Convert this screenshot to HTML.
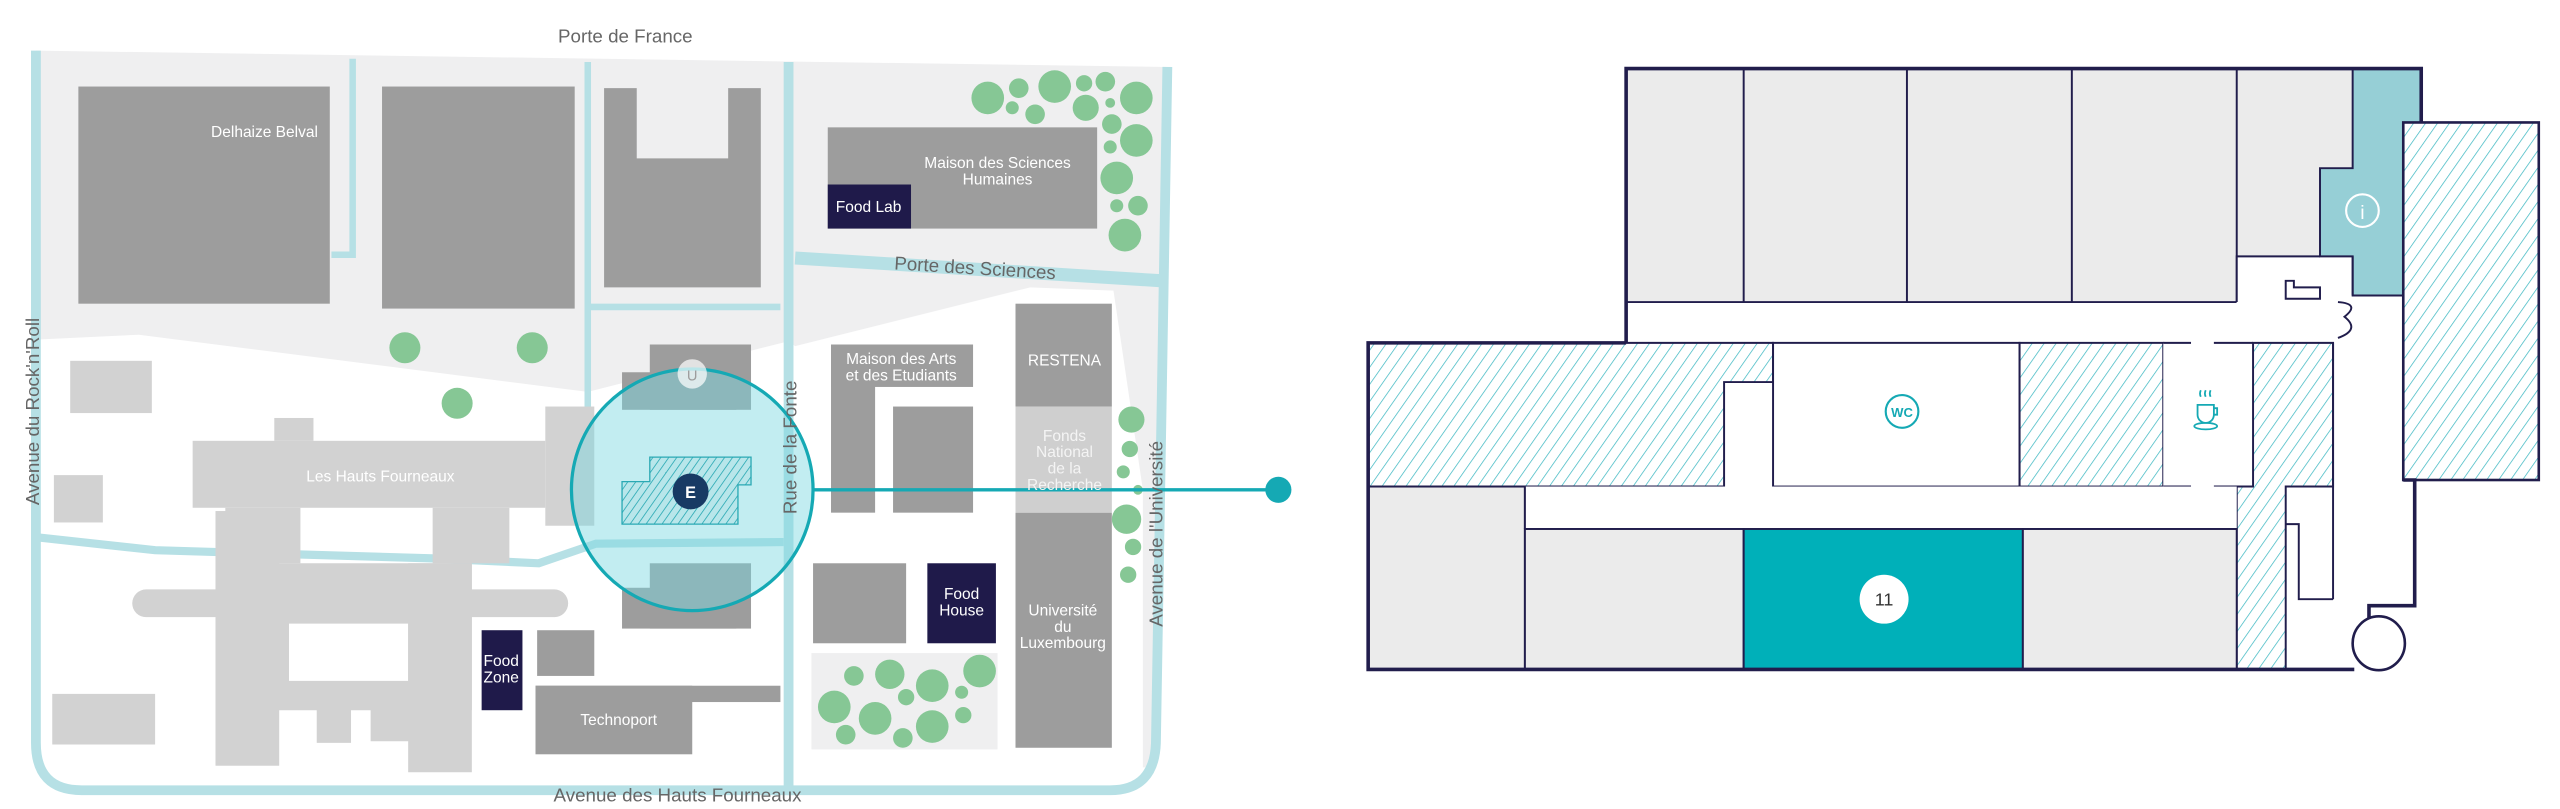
<!DOCTYPE html>
<html><head><meta charset="utf-8">
<style>
html,body{margin:0;padding:0;background:#fff;}
svg{display:block;}
text{font-family:"Liberation Sans Narrow","Liberation Sans",sans-serif;}
</style></head>
<body>
<svg width="2560" height="809" viewBox="0 0 1568 495.5" xmlns="http://www.w3.org/2000/svg">
<defs>
<pattern id="h" patternUnits="userSpaceOnUse" width="6" height="6" patternTransform="rotate(35)">
<rect width="6" height="6" fill="#fff"/>
<line x1="0" y1="0" x2="0" y2="6" stroke="#3db8c2" stroke-width="0.9"/>
</pattern>
<pattern id="h2" patternUnits="userSpaceOnUse" width="4" height="4" patternTransform="rotate(35)">
<rect width="4" height="4" fill="#b8e6ea"/>
<line x1="0" y1="0" x2="0" y2="4" stroke="#2aa9b4" stroke-width="1"/>
</pattern>
</defs>

<!-- ===== LEFT MAP ===== -->
<polygon points="22,31 715,41 708,470 700,470 700,300 682,178 631,176 487,212 483,209 360,240 85,205 22,208" fill="#efeff0"/>

<!-- roads -->
<g fill="none" stroke="#b6e0e5" stroke-linecap="butt">
<path d="M22,31 L22,455 Q22,484 50,484 L680,484 Q707,484 708,455 L715,41" stroke-width="6"/>
<line x1="483" y1="38" x2="483" y2="487" stroke-width="6"/>
<line x1="487" y1="158" x2="712" y2="172" stroke-width="8"/>
<path d="M216,36 L216,156 L203,156" stroke-width="4"/>
<path d="M360,38 L360,250" stroke-width="4"/>
<line x1="360" y1="188" x2="478" y2="188" stroke-width="4"/>
<path d="M22,329 L95,337 L265,342 L330,345 L365,333 L480,332" stroke-width="5"/>
</g>

<!-- light gray buildings -->
<g fill="#d2d2d2">
<rect x="43" y="221" width="50" height="32"/>
<rect x="33" y="291" width="30" height="29"/>
<rect x="32" y="425" width="63" height="31"/>
<rect x="118" y="270" width="216" height="41"/>
<rect x="168" y="256" width="24" height="14"/>
<rect x="334" y="249" width="30" height="73"/>
<rect x="138" y="311" width="46" height="34"/>
<rect x="132" y="313" width="39" height="156"/>
<rect x="265" y="311" width="47" height="34"/>
<rect x="250" y="345" width="39" height="128"/>
<rect x="81" y="361" width="267" height="17" rx="8.5"/>
<path d="M132,345 H289 V435 H132 Z M177,382 V417 H250 V382 Z" fill-rule="evenodd"/>
<rect x="194" y="430" width="21" height="25"/>
<rect x="227" y="430" width="32" height="24"/>
</g>

<!-- dark gray buildings -->
<g fill="#9d9d9d">
<rect x="48" y="53" width="154" height="133"/>
<rect x="234" y="53" width="118" height="136"/>
<path d="M370,54 H390 V97 H446 V54 H466 V176 H370 Z"/>
<rect x="507" y="78" width="165" height="62"/>
<rect x="509" y="211" width="87" height="26"/>
<rect x="509" y="211" width="27" height="103"/>
<rect x="547" y="249" width="49" height="65"/>
<rect x="622" y="186" width="59" height="63"/>
<rect x="622" y="314" width="59" height="144"/>
<rect x="498" y="345" width="57" height="49"/>
<rect x="328" y="420" width="150" height="10"/>
<rect x="328" y="420" width="96" height="42"/>
<rect x="329" y="386" width="35" height="28"/>
<rect x="398" y="211" width="62" height="40"/>
<rect x="381" y="228" width="70" height="23"/>
<rect x="398" y="345" width="62" height="40"/>
<rect x="381" y="360" width="70" height="25"/>
</g>
<rect x="622" y="249" width="59" height="65" fill="#cfcfcf"/>
<rect x="497" y="400" width="114" height="59" fill="#efeff0"/>

<g fill="#1f1a4a">
<rect x="507" y="113" width="51" height="27"/>
<rect x="568" y="345" width="42" height="49"/>
<rect x="295" y="386" width="25" height="49"/>
</g>

<!-- trees -->
<g fill="#86c795">
<circle cx="605" cy="60" r="10"/><circle cx="624" cy="54" r="6"/><circle cx="646" cy="53" r="10"/>
<circle cx="664" cy="51" r="5"/><circle cx="677" cy="50" r="6"/><circle cx="696" cy="60" r="10"/>
<circle cx="620" cy="66" r="4"/><circle cx="634" cy="70" r="6"/><circle cx="665" cy="66" r="8"/>
<circle cx="680" cy="63" r="3"/><circle cx="681" cy="76" r="6"/><circle cx="696" cy="86" r="10"/>
<circle cx="680" cy="90" r="4"/><circle cx="684" cy="109" r="10"/><circle cx="684" cy="126" r="4"/>
<circle cx="697" cy="126" r="6"/><circle cx="689" cy="144" r="10"/>
<circle cx="248" cy="213" r="9.5"/><circle cx="326" cy="213" r="9.5"/><circle cx="280" cy="247" r="9.5"/>
<circle cx="693" cy="257" r="8"/><circle cx="692" cy="275" r="5"/><circle cx="688" cy="289" r="4"/>
<circle cx="697" cy="300" r="3"/><circle cx="690" cy="318" r="9"/><circle cx="694" cy="335" r="5"/><circle cx="691" cy="352" r="5"/>
<circle cx="511" cy="433" r="10"/><circle cx="523" cy="414" r="6"/><circle cx="545" cy="413" r="9"/>
<circle cx="571" cy="420" r="10"/><circle cx="600" cy="411" r="10"/><circle cx="518" cy="450" r="6"/>
<circle cx="536" cy="440" r="10"/><circle cx="555" cy="427" r="5"/><circle cx="553" cy="452" r="6"/>
<circle cx="571" cy="445" r="10"/><circle cx="590" cy="438" r="5"/><circle cx="589" cy="424" r="4"/>
</g>

<!-- circle highlight -->
<circle cx="424" cy="300" r="74" fill="rgba(120,215,225,0.45)" stroke="#15a9b4" stroke-width="2"/>
<circle cx="424" cy="229" r="9" fill="#fff" fill-opacity="0.7"/>
<text x="424" y="233" font-size="9" fill="#9d9d9d" text-anchor="middle">U</text>
<polygon points="398,280 460,280 460,297 452,297 452,321 381,321 381,295 398,295" fill="url(#h2)" stroke="#2aa9b4" stroke-width="0.8"/>
<circle cx="423" cy="301" r="11" fill="#183a64"/>
<text x="423" y="305" font-size="10" fill="#fff" text-anchor="middle" font-weight="bold">E</text>
<line x1="498" y1="300" x2="783" y2="300" stroke="#15a9b4" stroke-width="2"/>
<circle cx="783" cy="300" r="8" fill="#15a9b4"/>

<!-- labels -->
<g font-size="9.5" fill="#fff" text-anchor="middle">
<text x="162" y="84">Delhaize Belval</text>
<text x="611" y="103">Maison des Sciences</text>
<text x="611" y="113">Humaines</text>
<text x="532" y="130">Food Lab</text>
<text x="552" y="223">Maison des Arts</text>
<text x="552" y="233">et des Etudiants</text>
<text x="652" y="224">RESTENA</text>
<g fill="#f4f4f4"><text x="652" y="270">Fonds</text><text x="652" y="280">National</text><text x="652" y="290">de la</text><text x="652" y="300">Recherche</text></g>
<text x="651" y="377">Université</text><text x="651" y="387">du</text><text x="651" y="397">Luxembourg</text>
<text x="589" y="367">Food</text><text x="589" y="377">House</text>
<text x="307" y="408">Food</text><text x="307" y="418">Zone</text>
<text x="379" y="444">Technoport</text>
<text x="233" y="295">Les Hauts Fourneaux</text>
</g>
<g font-size="11.5" fill="#666" text-anchor="middle">
<text x="383" y="26">Porte de France</text>
<text x="415" y="491">Avenue des Hauts Fourneaux</text>
<text transform="translate(597,168) rotate(3.5)">Porte des Sciences</text>
<text transform="translate(24,252) rotate(-90)">Avenue du Rock'n'Roll</text>
<text transform="translate(488,274) rotate(-90)">Rue de la Fonte</text>
<text transform="translate(712,327) rotate(-90)">Avenue de l'Université</text>
</g>

<!-- ===== FLOOR PLAN ===== -->
<g stroke="#211d4c" stroke-width="1.2">
<rect x="996" y="42" width="445" height="143" fill="#ebebeb" stroke="none"/>
<line x1="996" y1="185" x2="1370" y2="185"/>
<line x1="1068" y1="42" x2="1068" y2="185"/><line x1="1168" y1="42" x2="1168" y2="185"/>
<line x1="1269" y1="42" x2="1269" y2="185"/>
<line x1="1370" y1="42" x2="1370" y2="185"/>
<rect x="1370" y="157" width="71" height="29" fill="#fff" stroke="none"/>
<path d="M1370,185 V157 H1421" fill="none"/>
<path d="M1441,42 H1483 V181 H1441 V157 H1421 V103 H1441 Z" fill="#96cfd6"/>
<rect x="997" y="186" width="441" height="24" fill="#fff" stroke="none"/>
<rect x="1440" y="182" width="32" height="228" fill="#fff" stroke="none"/>
<rect x="1472" y="75" width="83" height="219" fill="url(#h)" stroke-width="1.6"/>
<path d="M838,210 H1086 V234 H1056 V298 H838 Z" fill="url(#h)"/>
<rect x="1086" y="210" width="151" height="88" fill="#fff"/>
<rect x="1237" y="210" width="88" height="88" fill="url(#h)"/>
<rect x="1325" y="210" width="55" height="88" fill="#fff" stroke="none"/>
<line x1="1325" y1="210" x2="1342" y2="210"/><line x1="1356" y1="210" x2="1380" y2="210"/>
<line x1="1325" y1="298" x2="1342" y2="298"/><line x1="1356" y1="298" x2="1380" y2="298"/>
<path d="M1380,210 H1429 V298 H1400 V410 H1370 V298 H1380 Z" fill="url(#h)"/>
<rect x="838" y="298" width="96" height="112" fill="#ebebeb"/>
<rect x="934" y="298" width="436" height="26" fill="#fff" stroke="none"/>
<rect x="934" y="324" width="134" height="86" fill="#ebebeb"/>
<rect x="1068" y="324" width="171" height="86" fill="#00b0b9"/>
<rect x="1239" y="324" width="131" height="86" fill="#ebebeb"/>
<line x1="934" y1="298" x2="934" y2="324"/>
<line x1="1429" y1="210" x2="1429" y2="367"/>
<line x1="1441" y1="157" x2="1441" y2="181"/>
<path d="M1400,321 H1408 V367 H1429" fill="none"/>
<path d="M1400,172 H1405 V176 H1421 V183 H1400 Z" fill="#fff"/>
<path d="M1432,185 Q1446,186 1436,194 Q1446,202 1432,207" fill="none"/>
</g>
<path d="M996,210 V42 H1483 V75 M1472,294 H1479 V371 H1451 V380 M1442,410 H838 V210 H996" fill="none" stroke="#211d4c" stroke-width="2.2"/>
<ellipse cx="1457" cy="394" rx="16" ry="16.5" fill="#fff" stroke="#211d4c" stroke-width="1.6"/>
<circle cx="1447" cy="129" r="10" fill="none" stroke="#fff" stroke-width="1.3"/>
<text x="1447" y="134" font-size="12" fill="#fff" text-anchor="middle">i</text>
<circle cx="1165" cy="252" r="10" fill="#fff" stroke="#15a9b4" stroke-width="1.3"/>
<text x="1165" y="255.5" font-size="8" fill="#15a9b4" text-anchor="middle" font-weight="bold">WC</text>
<g stroke="#15a9b4" stroke-width="1.1" fill="none">
<path d="M1346,248 h10 v6 a5,5 0 0 1 -10,0 z"/>
<path d="M1356,250 h2 v4 h-2"/>
<ellipse cx="1351" cy="261" rx="7" ry="2"/>
<path d="M1348,239 q-1,2 0,4 M1351,239 q-1,2 0,4 M1354,239 q-1,2 0,4"/>
</g>
<circle cx="1154" cy="367" r="15" fill="#fff"/>
<text x="1154" y="371" font-size="11" fill="#333" text-anchor="middle">11</text>
</svg>
</body></html>
